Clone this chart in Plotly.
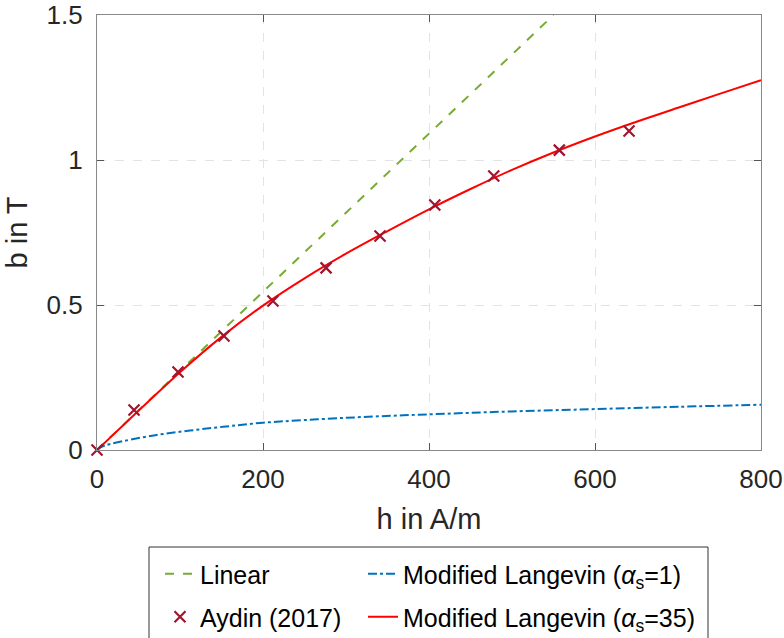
import plotly.graph_objects as go

# ---- data ----
linear_h = [0, 550]
linear_b = [0, 1.5]

aydin_h = [0, 44.6, 97.6, 153, 212, 276, 341, 407, 478, 557, 641]
aydin_b = [0, 0.138, 0.269, 0.393, 0.514, 0.628, 0.738, 0.845, 0.945, 1.034, 1.10]

ml1_h = [0, 5, 10, 15, 32, 72, 112, 152, 200, 300, 400, 500, 600, 700, 800]
ml1_b = [0, 0.010, 0.016, 0.020, 0.031, 0.052, 0.067, 0.080, 0.094, 0.111, 0.123, 0.133, 0.141, 0.149, 0.156]

ml35_h = [0, 50, 100, 150, 200, 250, 300, 350, 400, 450, 500, 550, 600, 650, 700, 750, 800]
ml35_b = [0, 0.135, 0.268, 0.39, 0.498, 0.592, 0.677, 0.755, 0.83, 0.90, 0.966, 1.026, 1.081, 1.132, 1.18, 1.228, 1.275]

x_ticks = [0, 200, 400, 600, 800]
y_ticks = [0, 0.5, 1, 1.5]
y_ticklabels = ["0", "0.5", "1", "1.5"]

FONT = "Liberation Sans, Arial, Helvetica, sans-serif"
TXT = "#262626"

fig = go.Figure()
fig.add_trace(go.Scatter(x=linear_h, y=linear_b, mode="lines", name="Linear",
                         line=dict(color="#77AC30", width=2, dash="dash"), legend="legend"))
fig.add_trace(go.Scatter(x=ml1_h, y=ml1_b, mode="lines", name="Modified Langevin (<i>α</i><sub>s</sub>=1)",
                         line=dict(color="#0072BD", width=2, dash="dashdot", shape="spline"), legend="legend3"))
fig.add_trace(go.Scatter(x=ml35_h, y=ml35_b, mode="lines", name="Modified Langevin (<i>α</i><sub>s</sub>=35)",
                         line=dict(color="#FF0000", width=2, shape="spline"), legend="legend4"))
fig.add_trace(go.Scatter(x=aydin_h, y=aydin_b, mode="markers", name="Aydin (2017)",
                         marker=dict(symbol="x-thin", size=11, color="#A2142F",
                                     line=dict(color="#A2142F", width=2.2)),
                         cliponaxis=False, legend="legend2"))

# plot area in page pixels: x 97..761, y 15..450 (body margin removed below)
PL, PT, PR, PB = 97, 15, 761, 450
W, H = 784, 638
L, T = PL, PT
R = W - PR
B = H - PB
pw, ph = PR - PL, PB - PT

def px2paper(px, py):
    return (px - PL) / pw, (PB - py) / ph

legfont = dict(family=FONT, size=25, color="black")
def leg(px, py):
    x, y = px2paper(px, py)
    return dict(x=x, y=y, xanchor="left", yanchor="middle", bgcolor="rgba(0,0,0,0)",
                borderwidth=0, font=legfont, itemwidth=30)

x0, y0 = px2paper(149, 547)
x1, y1 = px2paper(708, 660)

fig.update_layout(
    width=W, height=H,
    margin=dict(l=L, r=R, t=T, b=B, autoexpand=False),
    paper_bgcolor="white", plot_bgcolor="white",
    font=dict(family=FONT, size=26, color=TXT),
    showlegend=True,
    legend=leg(160, 574),
    legend2=leg(160, 617),
    legend3=leg(363, 574),
    legend4=leg(363, 617),
    shapes=[dict(type="rect", xref="paper", yref="paper", x0=x0, x1=x1, y0=y0, y1=y1,
                 line=dict(color="#333333", width=1), fillcolor="rgba(0,0,0,0)", layer="above")],
)
fig.update_xaxes(range=[0, 800], tickvals=x_ticks, ticks="inside", ticklen=7, tickcolor="#555",
                 showline=True, linecolor="#888", linewidth=1.3, mirror="ticks",
                 showgrid=True, gridcolor="#e3e3e3", griddash="dash", gridwidth=1,
                 zeroline=False, tickfont=dict(size=26, color=TXT), ticklabelstandoff=6,
                 ticklabeloverflow="allow",
                 title=dict(text="h in A/m", font=dict(size=29, color=TXT), standoff=15))
fig.update_yaxes(range=[0, 1.5], tickvals=y_ticks, ticktext=y_ticklabels, ticks="inside", ticklen=7,
                 tickcolor="#555",
                 showline=True, linecolor="#888", linewidth=1.3, mirror="ticks",
                 showgrid=True, gridcolor="#e3e3e3", griddash="dash", gridwidth=1,
                 zeroline=False, tickfont=dict(size=26, color=TXT), ticklabelstandoff=8,
                 ticklabeloverflow="allow",
                 title=dict(text="b in T", font=dict(size=29, color=TXT), standoff=10))

fig.write_html("out.html", config={"displayModeBar": False},
               post_script="document.body.style.margin='0';document.body.style.overflow='hidden';")
